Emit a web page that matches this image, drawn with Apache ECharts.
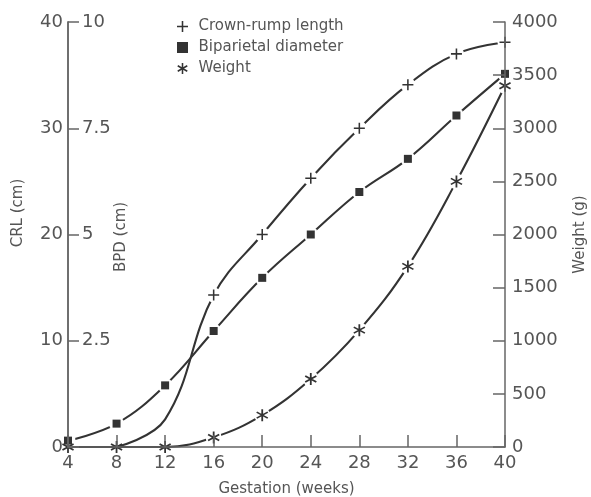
<!DOCTYPE html>
<html>
<head>
<meta charset="utf-8">
<script src="https://cdn.jsdelivr.net/npm/echarts@6/dist/echarts.min.js"></script>
<style>
html,body{margin:0;padding:0;background:#fff;}
#chart{width:591px;height:497px;}
</style>
</head>
<body>
<div id="chart"></div>
<script>
// ---- data ----
const weeks = [4, 8, 12, 16, 20, 24, 28, 32, 36, 40];
const weekTicks = [4, 8, 12, 16, 20, 24, 28, 32, 36, 40];
const crlWeeks = [8, 12, 16, 20, 24, 28, 32, 36, 40];
const crlValues = [0, 2.6, 14.3, 20, 25.3, 30, 34.1, 37, 38.1];   // cm
const crlMarkedFrom = 16; // markers only drawn from this week on
const bpdValues = [0.15, 0.55, 1.45, 2.73, 3.98, 5.0, 6.0, 6.78, 7.8, 8.78]; // cm
const weightValues = [0, 0, 0, 90, 300, 640, 1100, 1700, 2500, 3400]; // g
const crlTicks = [0, 10, 20, 30, 40];
const bpdTicks = ['', '2.5', '5', '7.5', '10'];
const weightTicks = [0, 500, 1000, 1500, 2000, 2500, 3000, 3500, 4000];
const seriesNames = ['Crown-rump length', 'Biparietal diameter', 'Weight'];

// ---- styling ----
const FONT = 'DejaVu Sans';
const TXT = '#555';
const AX = '#666';
const INK = '#333';

const plusPath = 'path://M4.3,0H5.7V4.3H10V5.7H5.7V10H4.3V5.7H0V4.3H4.3Z';
const squarePath = 'path://M0,0H10V10H0Z';
function asteriskPath() {
  const hw = 0.7, parts = [];
  [0, 60, -60].forEach(function (deg) {
    const t = deg * Math.PI / 180;
    const dx = 5 * Math.sin(t), dy = -5 * Math.cos(t);
    const px = hw * Math.cos(t), py = hw * Math.sin(t);
    const p = [
      [5 + dx + px, 5 + dy + py], [5 + dx - px, 5 + dy - py],
      [5 - dx - px, 5 - dy - py], [5 - dx + px, 5 - dy + py]
    ];
    parts.push('M' + p.map(function (q) { return q[0].toFixed(2) + ',' + q[1].toFixed(2); }).join('L') + 'Z');
  });
  return 'path://' + parts.join('');
}
const starPath = asteriskPath();

const crlData = crlWeeks.map(function (w, i) { return [w, crlValues[i]]; });
const crlMarks = crlData.filter(function (d) { return d[0] >= crlMarkedFrom; });
const bpdData = weeks.map(function (w, i) { return [w, bpdValues[i]]; });
const weightData = weeks.map(function (w, i) { return [w, weightValues[i]]; });
const weightHalo = weightData.filter(function (d) { return d[1] > 0; });

function lineSeries(name, data, yIndex) {
  return {
    name: name, type: 'line', data: data, yAxisIndex: yIndex,
    smooth: 0.4, showSymbol: false, symbol: 'none',
    lineStyle: { color: INK, width: 2.1 }, itemStyle: { color: INK },
    z: 2, silent: true
  };
}
function haloSeries(data, yIndex, size) {
  return {
    type: 'scatter', data: data, yAxisIndex: yIndex, symbol: 'circle',
    symbolSize: size, itemStyle: { color: '#fff', opacity: 1 }, z: 3, silent: true
  };
}
function markSeries(name, data, yIndex, symbol, size) {
  return {
    name: name, type: 'scatter', data: data, yAxisIndex: yIndex, symbol: symbol,
    symbolSize: size, itemStyle: { color: INK, opacity: 1 }, z: 4, silent: true
  };
}

const chart = echarts.init(document.getElementById('chart'), null, { renderer: 'canvas' });
chart.setOption({
  backgroundColor: '#fff',
  animation: false,
  textStyle: { fontFamily: FONT },
  grid: { left: 68, right: 86, top: 22, bottom: 50, containLabel: false, outerBoundsMode: 'none' },
  legend: {
    orient: 'vertical', left: 172, top: 14, itemWidth: 22, itemHeight: 11, itemGap: 6,
    textStyle: { fontFamily: FONT, fontSize: 15, color: TXT },
    data: [
      { name: seriesNames[0], icon: plusPath },
      { name: seriesNames[1], icon: squarePath },
      { name: seriesNames[2], icon: starPath }
    ],
    selectedMode: false
  },
  xAxis: {
    type: 'value', min: 4, max: 40, interval: 4, z: 10,
    name: 'Gestation (weeks)', nameLocation: 'middle', nameGap: 35,
    nameTextStyle: { fontFamily: FONT, fontSize: 15, color: TXT },
    axisLine: { lineStyle: { color: AX, width: 1.5 } },
    axisTick: { inside: true, length: 12, lineStyle: { color: AX, width: 1.5 } },
    axisLabel: { fontFamily: FONT, fontSize: 18, color: TXT, margin: 7,
      showMinLabel: true, showMaxLabel: true,
      formatter: function (v) { return weekTicks.indexOf(v) >= 0 ? String(v) : ''; } },
    splitLine: { show: false }
  },
  yAxis: [
    { // CRL
      type: 'value', min: 0, max: 40, interval: 10, position: 'left', z: 10,
      axisLine: { show: true, lineStyle: { color: AX, width: 1.5 } },
      axisTick: { show: false },
      axisLabel: { fontFamily: FONT, fontSize: 18, color: TXT, margin: 5,
        formatter: function (v) { return crlTicks.indexOf(v) >= 0 ? String(v) : ''; } },
      splitLine: { show: false }
    },
    { // BPD
      type: 'value', min: 0, max: 10, interval: 2.5, position: 'left', z: 10,
      axisLine: { show: true, lineStyle: { color: AX, width: 1.5 } },
      axisTick: { show: true, inside: true, length: 11, lineStyle: { color: AX, width: 1.5 } },
      axisLabel: { inside: true, fontFamily: FONT, fontSize: 18, color: TXT, margin: 14,
        formatter: function (v) { return bpdTicks[Math.round(v / 2.5)] || ''; } },
      splitLine: { show: false }
    },
    { // Weight
      type: 'value', min: 0, max: 4000, interval: 500, position: 'right', z: 10,
      name: 'Weight (g)', nameLocation: 'middle', nameGap: 68, nameRotate: 90,
      nameTextStyle: { fontFamily: FONT, fontSize: 15, color: TXT },
      axisLine: { show: true, lineStyle: { color: AX, width: 1.5 } },
      axisTick: { show: true, inside: true, length: 12, lineStyle: { color: AX, width: 1.5 } },
      axisLabel: { fontFamily: FONT, fontSize: 18, color: TXT, margin: 7,
        formatter: function (v) { return weightTicks.indexOf(v) >= 0 ? String(v) : ''; } },
      splitLine: { show: false }
    }
  ],
  graphic: [
    { type: 'text', x: 18, y: 213, rotation: Math.PI / 2,
      style: { text: 'CRL (cm)', fontFamily: FONT, fontSize: 15, fill: TXT, align: 'center', verticalAlign: 'middle' } },
    { type: 'text', x: 121, y: 237, rotation: Math.PI / 2,
      style: { text: 'BPD (cm)', fontFamily: FONT, fontSize: 15, fill: TXT, align: 'center', verticalAlign: 'middle' } }
  ],
  series: [
    lineSeries(seriesNames[0], crlData, 0),
    lineSeries(seriesNames[1], bpdData, 1),
    lineSeries(seriesNames[2], weightData, 2),
    haloSeries(crlMarks, 0, 15),
    haloSeries(bpdData, 1, 15),
    haloSeries(weightHalo, 2, 16),
    markSeries(seriesNames[0], crlMarks, 0, plusPath, 11),
    markSeries(seriesNames[1], bpdData, 1, squarePath, 8),
    markSeries(seriesNames[2], weightData, 2, starPath, 12)
  ]
});
</script>
</body>
</html>
